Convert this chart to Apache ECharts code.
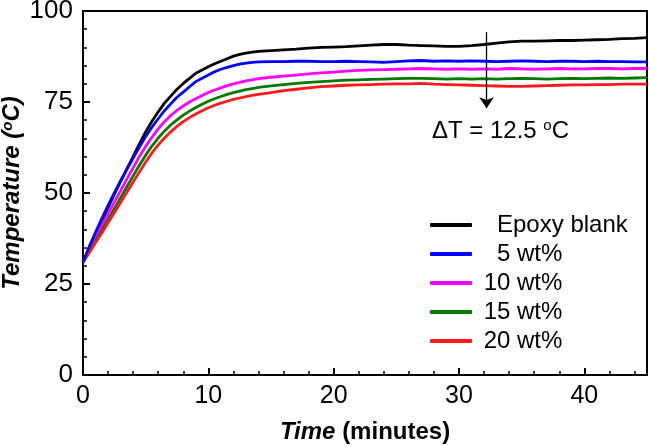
<!DOCTYPE html>
<html><head><meta charset="utf-8">
<script src="https://cdn.jsdelivr.net/npm/echarts@6/dist/echarts.min.js"></script>
<style>html,body{margin:0;padding:0;background:#fff}#c{width:649px;height:446px}</style>
</head><body><div id="c"></div>
<script>
// time (minutes)
const time = [0,0.5,1,1.5,2,2.5,3,3.5,4,4.5,5,5.5,6,6.5,7,7.5,8,8.5,9,9.5,10,10.5,11,11.5,12,12.5,13,13.5,14,
  15,16,17,18,19,20,21,22,23,24,25,26,27,28,29,30,31,32,33,34,35,36,37,38,39,40,41,42,43,44,45];
// temperature (°C)
const epoxyBlank = [31.0,34.8,38.4,42.2,46.0,49.7,53.2,56.6,60.0,63.5,66.8,69.7,72.3,74.7,76.6,78.5,80.1,81.5,82.9,83.8,84.7,85.5,86.2,86.9,87.6,88.1,88.4,88.7,88.9,
  89.1,89.3,89.5,89.8,90.0,90.1,90.2,90.4,90.6,90.8,90.8,90.6,90.5,90.4,90.3,90.3,90.5,90.8,91.2,91.5,91.7,91.7,91.8,91.9,91.9,92.0,92.1,92.2,92.4,92.5,92.7];
const wt5 = [31.0,35.3,39.2,43.0,46.6,50.0,53.3,56.5,59.6,62.6,65.5,68.1,70.4,72.6,74.5,76.3,77.7,79.2,80.6,81.5,82.4,83.3,84.0,84.5,85.0,85.4,85.7,85.9,86.0,
  86.1,86.1,86.2,86.2,86.1,86.1,86.2,86.1,86.0,85.9,86.1,86.3,86.4,86.2,86.3,86.2,86.3,86.2,86.1,86.2,86.3,86.2,86.1,86.2,86.2,86.1,86.2,86.1,86.1,86.0,86.0];
const wt10 = [31.0,34.3,37.6,41.0,44.3,47.5,50.6,53.8,56.9,60.0,62.8,65.3,67.6,69.6,71.3,72.7,73.9,75.0,75.9,76.8,77.6,78.3,78.9,79.5,80.0,80.4,80.8,81.1,81.4,
  81.8,82.1,82.4,82.7,83.0,83.2,83.5,83.7,83.8,83.9,84.0,84.1,84.2,84.1,84.0,84.1,84.0,84.1,84.0,84.2,84.1,84.0,84.1,84.2,84.1,84.1,84.2,84.2,84.1,84.2,84.2];
const wt15 = [31.0,33.9,36.8,39.7,42.7,45.7,48.7,51.7,54.7,57.6,60.4,62.9,65.1,67.0,68.7,70.1,71.4,72.5,73.5,74.4,75.2,75.9,76.5,77.1,77.6,78.0,78.4,78.7,79.0,
  79.4,79.8,80.1,80.4,80.6,80.8,81.0,81.1,81.2,81.3,81.4,81.5,81.5,81.4,81.3,81.4,81.3,81.4,81.3,81.4,81.5,81.4,81.3,81.4,81.5,81.4,81.5,81.6,81.5,81.6,81.7];
const wt20 = [31.0,33.6,36.3,39.0,41.8,44.6,47.4,50.2,53.0,55.8,58.5,61.0,63.2,65.1,66.8,68.3,69.6,70.7,71.7,72.6,73.4,74.1,74.7,75.2,75.7,76.1,76.5,76.8,77.1,
  77.6,78.1,78.5,78.9,79.2,79.4,79.6,79.7,79.8,79.9,80.0,80.0,80.1,79.9,79.8,79.7,79.6,79.5,79.4,79.3,79.3,79.4,79.5,79.6,79.7,79.7,79.8,79.8,79.9,79.9,79.9];
const seriesNames = ['   Epoxy blank', '   5 wt%', ' 10 wt%', ' 15 wt%', ' 20 wt%'];
const seriesValues = [epoxyBlank, wt5, wt10, wt15, wt20];
const seriesColors = ['#000000', '#0000ff', '#ff00ff', '#007a00', '#ff1a1a'];
// annotation (data units)
const deltaT = 12.5;
const arrowTime = 32.2, arrowFrom = 94.2, arrowTo = 73.3;
const labelTime = 27.8, labelTemp = 66.8;

const FONT = '"Liberation Sans", Arial, sans-serif';
const chart = echarts.init(document.getElementById('c'), null, {renderer: 'canvas'});

const series = seriesNames.map((name, i) => ({
  name, type: 'line', showSymbol: false, symbol: 'none', animation: false,
  data: time.map((t, k) => [t, seriesValues[i][k]]),
  lineStyle: {color: seriesColors[i], width: 2.8},
  itemStyle: {color: seriesColors[i]},
  z: 2 + (i === 1 ? 5 : 0)
}));
series[0].markLine = {
  silent: true, animation: false,
  symbol: ['none', 'arrow'], symbolSize: 11,
  lineStyle: {color: '#000', width: 1.3, type: 'solid'},
  label: {show: false},
  data: [[{coord: [arrowTime, arrowFrom]}, {coord: [arrowTime, arrowTo]}]]
};
series[0].markPoint = {
  silent: true, animation: false,
  symbol: 'circle', symbolSize: 1, itemStyle: {color: 'rgba(0,0,0,0)'},
  label: {
    show: true, position: 'right', distance: 0,
    formatter: '{n|\u0394T = ' + deltaT + ' }{s|o}{n|C}',
    rich: {
      n: {fontSize: 24, fontFamily: FONT, color: '#000', lineHeight: 26},
      s: {fontSize: 15, fontFamily: FONT, color: '#000', verticalAlign: 'top', lineHeight: 15}
    }
  },
  data: [{coord: [labelTime, labelTemp]}]
};

chart.setOption({
  animation: false,
  backgroundColor: '#fff',
  grid: {left: 83, right: 2, top: 11, bottom: 71, show: true, borderColor: '#000', borderWidth: 2,
    containLabel: false, outerBoundsMode: 'none'},
  legend: {
    orient: 'vertical', left: 430, top: 213, padding: 0,
    icon: 'roundRect', itemWidth: 42, itemHeight: 4, itemGap: 5,
    textStyle: {fontSize: 24, color: '#000', fontFamily: FONT},
    data: seriesNames
  },
  xAxis: [{
    type: 'value', min: 0, max: 45, interval: 10, position: 'bottom',
    name: '{i|Time} (minutes)', nameLocation: 'middle', nameGap: 45, nameMoveOverlap: false,
    nameTextStyle: {fontSize: 24, fontWeight: 'bold', color: '#000', fontFamily: FONT,
      rich: {i: {fontSize: 24, fontWeight: 'bold', fontStyle: 'italic', color: '#000', fontFamily: FONT}}},
    axisLine: {show: true, lineStyle: {color: '#000', width: 2}},
    axisTick: {show: true, inside: true, length: 7, lineStyle: {color: '#000', width: 2}},
    axisLabel: {fontSize: 25, color: '#000', fontFamily: FONT, margin: 9, showMaxLabel: false},
    splitLine: {show: false}
  }, {
    type: 'value', min: 0, max: 45, interval: 2, position: 'bottom',
    axisLine: {show: false},
    axisTick: {show: true, inside: true, length: 4, lineStyle: {color: '#000', width: 1.5}},
    axisLabel: {show: false},
    splitLine: {show: false}
  }],
  yAxis: {
    type: 'value', min: 0, max: 100, interval: 25,
    name: 'Temperature ({s|o}C)', nameLocation: 'middle', nameGap: 59, nameMoveOverlap: false,
    nameTextStyle: {fontSize: 24, fontWeight: 'bold', fontStyle: 'italic', color: '#000', fontFamily: FONT,
      rich: {s: {fontSize: 15, fontWeight: 'bold', fontStyle: 'italic', color: '#000', fontFamily: FONT, verticalAlign: 'top'}}},
    axisLine: {show: true, lineStyle: {color: '#000', width: 2}},
    axisTick: {show: true, inside: true, length: 7, lineStyle: {color: '#000', width: 2}},
    minorTick: {show: true, splitNumber: 5, length: 4, lineStyle: {color: '#000', width: 1.5}},
    axisLabel: {fontSize: 26, color: '#000', fontFamily: FONT, margin: 10},
    splitLine: {show: false}, minorSplitLine: {show: false}
  },
  series
});
</script></body></html>
